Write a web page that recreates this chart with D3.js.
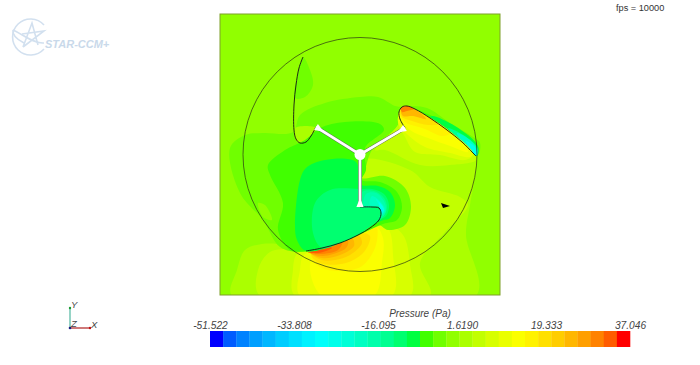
<!DOCTYPE html>
<html><head><meta charset="utf-8">
<script src="https://cdn.jsdelivr.net/npm/d3@7"></script>
<style>
html,body{margin:0;padding:0;background:#fff;overflow:hidden}
text{font-family:"Liberation Sans",sans-serif}
</style></head><body>
<svg id="c" width="700" height="365"></svg>
<script>
// --- legend / scale data
const pressureMin = -51.522, pressureMax = 37.046, bandCount = 32;
const tickValues = [-51.522, -33.808, -16.095, 1.6190, 19.333, 37.046];
const tickLabels = ["-51.522", "-33.808", "-16.095", "1.6190", "19.333", "37.046"];
const legendTitle = "Pressure (Pa)";
const fpsLabel = "fps = 10000";

// --- geometry, in mesh units
const domainX = [220, 500], domainY = [14, 295];
const rotorCentre = [360, 154.5], rotorRadius = 117, hubRadius = 5.5;
const blade1 = [[303,57],[299,68],[296,85],[294,105],[294,130],[296,139],[300,143],[306,142],[311,136],[316,127]];
const blade2 = [[405,128],[400,119],[399,112],[402,107],[407,106],[415,109],[430,118],[447,130],[462,142],[473,153],[476,156]];
const blade3 = [[360,207],[372,207],[379,208],[381,213],[379,220],[370,228],[358,235],[340,243],[322,248],[306,251]];
const spokes = [[316,127],[405,128],[360,207]];
const dart = [[441,203],[450,206],[443,208]];

// --- pressure contours: [pressure in Pa, outline]
const lowerBands = [
 [2.4,[[232,296],[237,270],[245,250],[262,244],[285,245],[300,250],[340,230],[360,185],[362,165],[372,148],[390,125],[400,108],[440,125],[476,156],[476,170],[470,205],[466,235],[476,296]]],
 [5.2,[[260,296],[258,270],[270,252],[295,248],[330,240],[360,185],[363,160],[410,170],[430,187],[460,197],[468,205],[445,232],[420,263],[430,296]]],
 [7.9,[[295,296],[293,270],[296,255],[303,250],[340,240],[383,223],[403,235],[410,265],[410,296]]],
 [10.7,[[300,296],[300,270],[304,255],[330,245],[365,232],[381,220],[390,232],[393,255],[392,296]]],
 [13.5,[[322,296],[310,264],[320,250],[350,238],[375,226],[383,238],[382,262],[374,296]]],
 [16.2,[[320,267],[310,254],[340,243],[365,232],[376,225],[376,245],[362,266],[340,271]]],
 [19,[[320,263],[311,254],[340,243],[362,233],[370,236],[364,252],[346,263]]],
 [21.8,[[322,260],[311,253],[340,243],[358,235],[362,243],[350,255],[335,260]]],
 [24.5,[[322,258],[310,252],[340,243],[352,238],[354,246],[340,255]]],
 [27.3,[[323,256],[309,252],[340,243],[348,241],[346,248]]],
 [30,[[320,254],[308,252],[335,245],[342,243],[338,250]]],
 [32.8,[[318,253],[308,252],[328,247],[332,248]]]
];
const upperSuction = [
 [-3.1,[[410,107],[427,108],[450,123],[470,135],[480,143],[478,155],[470,148],[440,128]]],
 [-5.9,[[418,110],[450,125],[472,139],[479,150],[476,156],[462,142],[430,118]]],
 [-8.6,[[432,116],[455,126],[478,146],[477,156],[462,142],[430,118]]],
 [-14.2,[[448,128],[465,136],[478,149],[476,156],[462,142]]],
 [-19.7,[[457,133],[470,140],[478,151],[476,156],[462,142]]],
 [-25.2,[[466,141],[475,147],[477,155],[473,153]]]
];
const upperPressure = [
 [5.2,[[402,107],[430,118],[473,153],[476,160],[450,165],[420,165],[385,150],[375,150],[398,125]]],
 [7.9,[[402,108],[430,118],[473,155],[465,160],[440,155],[415,152],[405,137],[398,122]]],
 [10.7,[[403,107],[430,118],[473,153],[470,157],[450,153],[425,147],[408,135],[398,122]]],
 [13.5,[[402,107],[430,118],[462,142],[468,152],[450,146],[428,138],[410,130],[400,118]]],
 [16.2,[[402,107],[430,118],[450,133],[442,136],[425,129],[405,122],[400,114]]],
 [19,[[402,108],[425,115],[438,124],[428,125],[412,121],[401,116]]],
 [24.5,[[401,109],[407,106],[418,111],[426,119],[413,116],[403,116]]],
 [30,[[401,108],[407,106],[414,109],[407,111],[402,112]]]
];
const rotorGreens = [
 [-3.1,[[230,148],[245,135],[263,133],[293,132],[300,115],[325,103],[360,97],[378,97],[395,106],[403,108],[398,125],[372,150],[365,170],[362,178],[385,176],[405,188],[411,207],[405,225],[388,230],[378,225],[340,243],[303,252],[280,247],[263,220],[240,193]]],
 [-0.4,[[258,203],[265,205],[272,220],[263,217]]],
 [-3.1,[[303,57],[310,70],[313,85],[305,97],[295,98],[298,73]]],
 [2.4,[[295,128],[316,128],[308,140],[300,143],[295,138]]],
 [-5.9,[[268,165],[285,150],[305,140],[320,128],[345,122],[380,124],[384,130],[365,148],[366,170],[362,180],[380,182],[397,192],[402,207],[397,220],[383,224],[340,243],[305,251],[290,250],[278,230],[283,203],[270,175]]],
 [-8.6,[[300,180],[306,168],[325,160],[356,162],[360,184],[378,186],[390,192],[395,205],[390,218],[381,221],[340,243],[306,251],[297,240],[295,225]]],
 [-11.4,[[315,203],[313,233],[322,248],[340,243],[358,235],[379,220],[386,216],[389,205],[384,194],[372,189],[360,189],[330,190]]],
 [-14.2,[[362,192],[374,191],[384,198],[387,208],[383,217],[379,220],[381,207],[362,207]]],
 [-16.9,[[366,194],[376,193],[384,201],[386,210],[383,216],[381,213],[379,207],[364,206]]],
 [-19.7,[[372,196],[381,202],[385,210],[382,215],[381,207],[370,205]]],
 [-22.4,[[376,199],[382,205],[384,211],[382,214],[380,207]]],
 [-25.2,[[379,202],[383,207],[384,211],[381,211]]],
 [-30.8,[[381,208],[383,210],[382,213]]]
];

// --- scales
const svg = d3.select("#c");
const x = d3.scaleLinear().domain(domainX).range([220,500]);
const y = d3.scaleLinear().domain(domainY).range([14,295]);
const bandColor = i => {
  const v = i / 7.75, s = Math.min(3, Math.floor(v)), f = v - s;
  const up = Math.sqrt(f), dn = Math.sqrt(1 - f);
  const rgb = [[0,up,1],[0,1,dn],[up,1,0],[1,dn,0]][s];
  return d3.rgb(rgb[0]*255, rgb[1]*255, rgb[2]*255).formatHex();
};
const bandColors = d3.range(bandCount).map(bandColor);
const color = d3.scaleQuantize().domain([pressureMin, pressureMax]).range(bandColors);
const line = d3.line().x(d => x(d[0])).y(d => y(d[1]));
const smooth = d3.line().x(d => x(d[0])).y(d => y(d[1])).curve(d3.curveCatmullRomClosed.alpha(0.5));
const open = d3.line().x(d => x(d[0])).y(d => y(d[1])).curve(d3.curveCatmullRom.alpha(0.5));

// --- field
svg.append("clipPath").attr("id","dom").append("rect")
  .attr("x",x(domainX[0])).attr("y",y(domainY[0]))
  .attr("width",x(domainX[1])-x(domainX[0])).attr("height",y(domainY[1])-y(domainY[0]));
const field = svg.append("g").attr("clip-path","url(#dom)");
field.append("rect").attr("x",x(domainX[0])).attr("y",y(domainY[0]))
  .attr("width",x(domainX[1])-x(domainX[0])).attr("height",y(domainY[1])-y(domainY[0]))
  .attr("fill",color(-0.4));
[lowerBands, rotorGreens, upperSuction, upperPressure].forEach(set => {
  field.append("g").selectAll("path").data(set).join("path")
    .attr("d", d => smooth(d[1])).attr("fill", d => color(d[0]));
});
svg.append("rect").attr("x",x(domainX[0])).attr("y",y(domainY[0]))
  .attr("width",x(domainX[1])-x(domainX[0])).attr("height",y(domainY[1])-y(domainY[0]))
  .attr("fill","none").attr("stroke","#7f9f2a").attr("stroke-width",1);

// --- rotor
svg.append("circle").attr("cx",x(rotorCentre[0])).attr("cy",y(rotorCentre[1]))
  .attr("r",x(rotorCentre[0]+rotorRadius)-x(rotorCentre[0]))
  .attr("fill","none").attr("stroke","#2a3416").attr("stroke-width",0.7);
svg.append("g").selectAll("path").data([blade1,blade2,blade3]).join("path")
  .attr("d",open).attr("fill","none").attr("stroke","#141414").attr("stroke-width",0.9);
const sp = svg.append("g");
const flare = (d, back, half) => {
  const dx = rotorCentre[0]-d[0], dy = rotorCentre[1]-d[1], n = Math.hypot(dx,dy);
  const ux = dx/n, uy = dy/n;
  return [[d[0]+ux*back,d[1]+uy*back],[d[0]-uy*half,d[1]+ux*half],[d[0]+uy*half,d[1]-ux*half]];
};
sp.selectAll(".o").data(spokes).join("path").attr("class","o")
  .attr("d",d=>line([rotorCentre,d])).attr("stroke","#4a4a4a").attr("stroke-width",3.6);
sp.selectAll(".w").data(spokes).join("path").attr("class","w")
  .attr("d",d=>line([rotorCentre,d])).attr("stroke","#fff").attr("stroke-width",2.8);
sp.selectAll(".f").data(spokes).join("path").attr("class","f")
  .attr("d",d=>line(flare(d,9,3.6))+"Z").attr("fill","#fff");
svg.append("circle").attr("cx",x(rotorCentre[0])).attr("cy",y(rotorCentre[1]))
  .attr("r",x(rotorCentre[0]+hubRadius)-x(rotorCentre[0])).attr("fill","#fff");
svg.append("path").attr("d",line(dart)+"Z").attr("fill","#000");

// --- legend
const lx = d3.scaleLinear().domain([pressureMin, pressureMax]).range([210,630]);
const bw = (lx.range()[1]-lx.range()[0])/bandCount;
svg.append("g").selectAll("rect").data(bandColors).join("rect")
  .attr("x",(d,i)=>210+i*bw).attr("y",331).attr("width",bw+0.3).attr("height",16).attr("fill",d=>d);
const ax = svg.append("g").attr("transform","translate(0,330)")
  .call(d3.axisTop(lx).tickValues(tickValues).tickSize(0).tickPadding(1).tickFormat((d,i)=>tickLabels[i]));
ax.select(".domain").remove();
ax.selectAll("text").attr("font-family","Liberation Sans").attr("font-style","italic")
  .attr("font-size",10.2).attr("fill","#444");
svg.append("text").attr("x",420).attr("y",317).attr("text-anchor","middle")
  .attr("font-style","italic").attr("font-size",10).attr("fill","#444").text(legendTitle);
svg.append("text").attr("x",616).attr("y",11).attr("font-size",9.2).attr("fill","#333").text(fpsLabel);

// --- triad
const tr = svg.append("g");
tr.append("line").attr("x1",70).attr("y1",328).attr("x2",70).attr("y2",308).attr("stroke","#7cc9b8").attr("stroke-width",1.6);
tr.append("line").attr("x1",70).attr("y1",328).attr("x2",90).attr("y2",328).attr("stroke","#b02020").attr("stroke-width",1.2);
tr.append("circle").attr("cx",70).attr("cy",308).attr("r",1.2).attr("fill","#1a9a30");
tr.append("circle").attr("cx",90).attr("cy",328).attr("r",1.2).attr("fill","#c01010");
tr.append("circle").attr("cx",70).attr("cy",328).attr("r",1.3).attr("fill","#1a1a80");
[["Y",71,308],["Z",71,327],["X",91,328]].forEach(t=>
  tr.append("text").attr("x",t[1]).attr("y",t[2]).attr("font-style","italic").attr("font-size",9.5).attr("fill","#444").text(t[0]));

// --- logo
const lg = svg.append("g").attr("fill","none").attr("stroke","#d2e0ef").attr("stroke-width",1.6);
lg.append("path").attr("d","M44 25 A18 18 0 1 0 44 49");
lg.append("path").attr("d","M13 30 C22 34 34 44 44 43 M13 30 C12 36 18 40 24 43");
lg.append("path").attr("d","M23 47 L32 23 L38 45 M23 47 L44 31 L22 34");
svg.append("text").attr("x",45).attr("y",48).attr("font-weight","bold").attr("font-style","italic")
  .attr("font-size",11).attr("fill","#c9d9ea").text("STAR-CCM+");
</script>
</body></html>
